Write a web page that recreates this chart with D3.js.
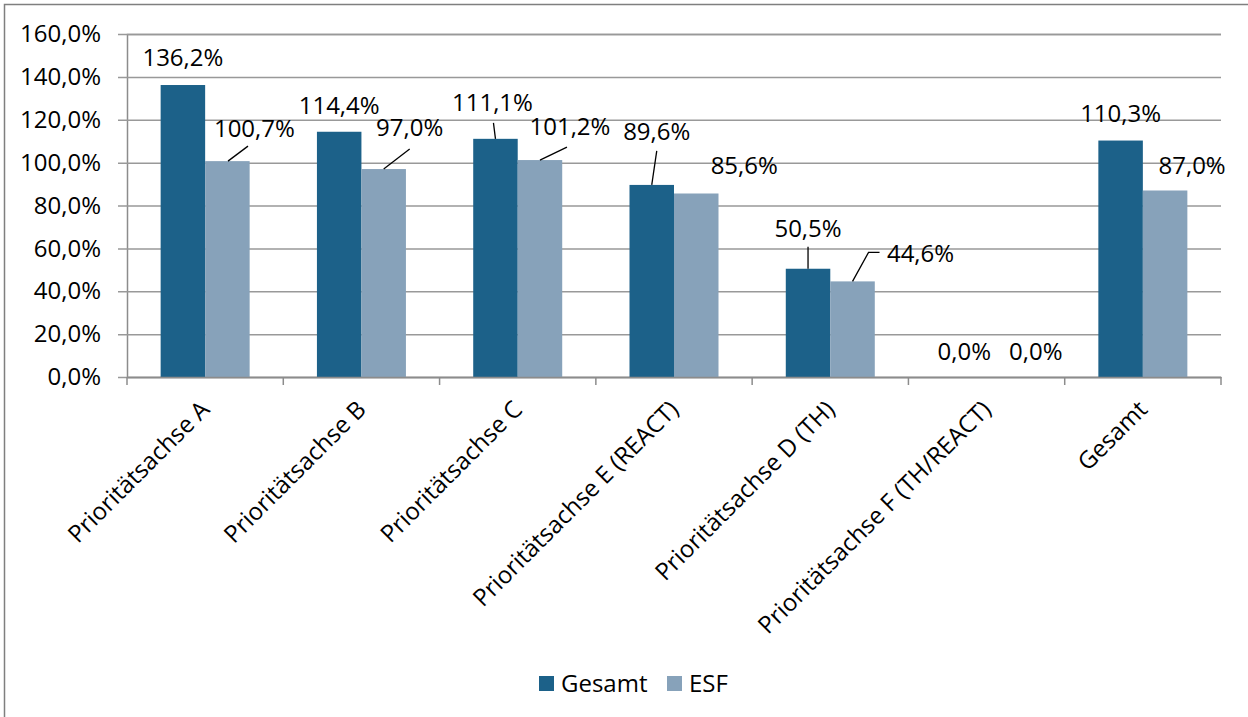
<!DOCTYPE html>
<html>
<head>
<meta charset="utf-8">
<script src="https://cdn.jsdelivr.net/npm/d3@7"></script>
<style>
  html, body { margin: 0; padding: 0; background: #fff; }
  svg { display: block; font-family: "Open Sans", "Noto Sans", sans-serif; }
</style>
</head>
<body>
<svg id="chart" width="1248" height="717"></svg>
<script>
// ---- data ----
const categories = [
  "Prioritätsachse A",
  "Prioritätsachse B",
  "Prioritätsachse C",
  "Prioritätsachse E (REACT)",
  "Prioritätsachse D (TH)",
  "Prioritätsachse F (TH/REACT)",
  "Gesamt"
];
const seriesNames = ["Gesamt", "ESF"];
const gesamtValues = [136.2, 114.4, 111.1, 89.6, 50.5, 0.0, 110.3];
const esfValues    = [100.7, 97.0, 101.2, 85.6, 44.6, 0.0, 87.0];
const yTicks = [0, 20, 40, 60, 80, 100, 120, 140, 160];

// ---- layout / style ----
const colors = { Gesamt: "#1c6189", ESF: "#87a2ba" };
const fontSize = 24;
const plot = { left: 127, right: 1221, top: 34, bottom: 377 };

// label placement offsets (relative to the top centre of each bar), and leader lines
const labelLayout = {
  Gesamt: [
    { dx: 0, dy: -27 }, { dx: 0, dy: -26 }, { dx: -3, dy: -36, leader: [[0,0],[-2,-16]] },
    { dx: 5, dy: -53, leader: [[0,0],[5,-34]] }, { dx: 0, dy: -40, leader: [[0,0],[0,-22]] },
    { dx: 0, dy: -25 }, { dx: 0, dy: -27 }
  ],
  ESF: [
    { dx: 27, dy: -33, leader: [[0.6,0],[20.6,-15]] }, { dx: 26, dy: -41, leader: [[0,0],[26,-20]] },
    { dx: 30, dy: -33, leader: [[0,0],[27,-13]] }, { dx: 48, dy: -28 },
    { dx: 68, dy: -28, leader: [[0,0],[16,-29],[27,-29]] }, { dx: 27, dy: -25 }, { dx: 27, dy: -25 }
  ]
};

const svg = d3.select("#chart");

// border (left & top visible)
svg.append("path")
  .attr("d", "M4.5,717 L4.5,4.5 L1248,4.5")
  .attr("fill", "none").attr("stroke", "#7f7f7f").attr("stroke-width", 1.5);

const x0 = d3.scaleBand().domain(categories).range([plot.left, plot.right]).paddingInner(0).paddingOuter(0);
const x1 = d3.scaleBand().domain(seriesNames).range([0, x0.bandwidth()]).paddingInner(0).paddingOuter(0.756);
const y = d3.scaleLinear().domain([0, 160]).range([plot.bottom, plot.top]);

const fmt = v => d3.format(".1f")(v).replace(".", ",") + "%";

// gridlines + y axis
const yAxis = d3.axisLeft(y).tickValues(yTicks).tickFormat(fmt)
  .tickSize(-(plot.right - plot.left)).tickPadding(17);
const gy = svg.append("g").attr("transform", `translate(${plot.left},0)`).call(yAxis);
gy.select(".domain").attr("stroke", "#8c8c8c").attr("stroke-width", 1.5);
gy.selectAll(".tick line").attr("stroke", "#999").attr("stroke-width", 1.5).attr("x1", -9);
gy.selectAll(".tick text").attr("fill", "#000").style("font-size", fontSize + "px")
  .style("font-family", '"Open Sans", sans-serif').attr("x", -26);

// bars
const data = categories.map((c, i) => ({ cat: c, Gesamt: gesamtValues[i], ESF: esfValues[i] }));
const groups = svg.append("g").selectAll("g").data(data).join("g")
  .attr("transform", d => `translate(${x0(d.cat)},0)`);
groups.selectAll("rect")
  .data(d => seriesNames.map(s => ({ s, v: d[s] })))
  .join("rect")
  .attr("x", d => x1(d.s))
  .attr("width", x1.bandwidth())
  .attr("y", d => y(d.v))
  .attr("height", d => y(0) - y(d.v))
  .attr("fill", d => colors[d.s]);

// x axis
const xAxis = d3.axisBottom(x0).tickSize(0).tickFormat("");
const gx = svg.append("g").attr("transform", `translate(0,${plot.bottom})`).call(xAxis);
gx.select(".domain").attr("stroke", "#8c8c8c").attr("stroke-width", 1.5);
// tick marks at category boundaries
const bounds = categories.map(c => x0(c)).concat([plot.right]);
gx.selectAll("line.bound").data(bounds).join("line").attr("class", "bound")
  .attr("x1", d => d).attr("x2", d => d).attr("y1", 0).attr("y2", 8)
  .attr("stroke", "#8c8c8c").attr("stroke-width", 1.5);

// x labels rotated
svg.append("g").selectAll("text").data(categories).join("text")
  .attr("transform", d => `translate(${x0(d) + x0.bandwidth() / 2},${plot.bottom + 28}) rotate(-45)`)
  .attr("text-anchor", "end")
  .attr("dy", "0.35em")
  .style("font-size", fontSize + "px")
  .attr("fill", "#000")
  .text(d => d);

// data labels + leader lines
const lblG = svg.append("g");
seriesNames.forEach(s => {
  const vals = s === "Gesamt" ? gesamtValues : esfValues;
  vals.forEach((v, i) => {
    const cx = x0(categories[i]) + x1(s) + x1.bandwidth() / 2;
    const cy = y(v);
    const L = labelLayout[s][i];
    if (L.leader) {
      lblG.append("path")
        .attr("d", d3.line()(L.leader.map(p => [cx + p[0], cy + p[1]])))
        .attr("fill", "none").attr("stroke", "#000").attr("stroke-width", 1.3);
    }
    lblG.append("text")
      .attr("x", cx + L.dx).attr("y", cy + L.dy)
      .attr("dy", "0.35em")
      .attr("text-anchor", "middle")
      .style("font-size", fontSize + "px")
      .attr("fill", "#000")
      .text(fmt(v));
  });
});

// legend
const legend = svg.append("g").attr("transform", "translate(539,676)");
const legendX = [0, 128];
seriesNames.forEach((s, i) => {
  const g = legend.append("g").attr("transform", `translate(${legendX[i]},0)`);
  g.append("rect").attr("width", 15).attr("height", 15).attr("fill", colors[s]);
  g.append("text").attr("x", 22).attr("y", 7.5).attr("dy", "0.35em")
    .style("font-size", fontSize + "px").attr("fill", "#000").text(s);
});
</script>
</body>
</html>
